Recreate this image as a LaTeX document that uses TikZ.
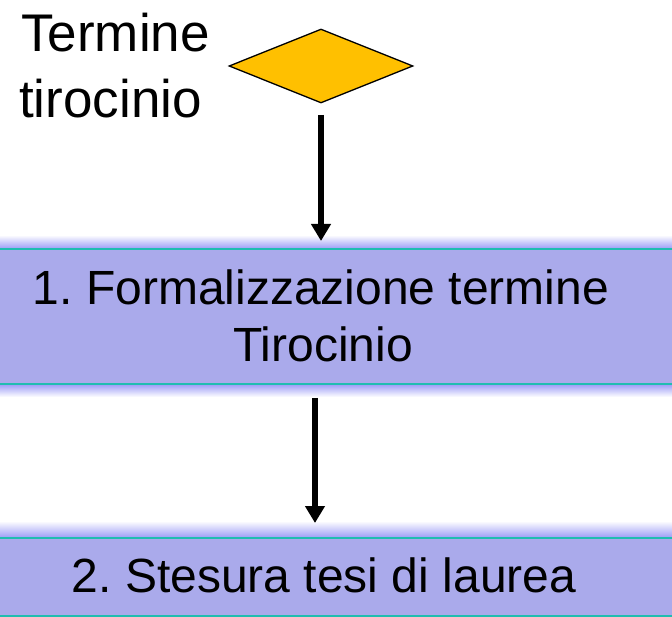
\documentclass[tikz,border=0pt]{standalone}
\usepackage{fontspec}
\setmainfont{Liberation Sans}
\usetikzlibrary{shapes.geometric,arrows.meta}
\definecolor{bandfill}{HTML}{AAAAEB}
\definecolor{bandedge}{HTML}{9A9AF6}
\definecolor{tealline}{HTML}{20BDB0}
\definecolor{diamondfill}{HTML}{FFC000}
\tikzset{
  lbl/.style={inner sep=0pt, font=\fontsize{53}{63}\selectfont},
  boxtxt/.style={inner sep=0pt, font=\fontsize{48}{57}\selectfont},
  flowarrow/.style={line width=6.5pt, -{Triangle[length=17pt,width=19pt]}},
  edge line/.style={tealline, line width=2.2pt},
}
\frenchspacing
\begin{document}
\begin{tikzpicture}[x=1pt,y=-1pt]
\useasboundingbox (0,0) rectangle (672,617);
% band 1
\shade[top color=white, bottom color=bandedge] (0,235) rectangle (672,249);
\shade[top color=bandedge, bottom color=white] (0,384) rectangle (672,397);
\fill[bandfill] (0,249) rectangle (672,384);
\draw[edge line] (0,249) -- (672,249);
\draw[edge line] (0,384) -- (672,384);
% band 2
\shade[top color=white, bottom color=bandedge] (0,521) rectangle (672,538);
\fill[bandfill] (0,538) rectangle (672,617);
\draw[edge line] (0,538) -- (672,538);
\draw[edge line] (0,616) -- (672,616);
% diamond
\node[diamond, draw=black, line width=1.3pt, fill=diamondfill, minimum width=184pt, minimum height=74pt, inner sep=0pt, aspect=2.5] (dec) at (321,66) {};
% labels
\node[lbl, anchor=base west] (t1) at (21,52) {Termine};
\node[lbl, anchor=base west] (t2) at (19,118) {tirocinio};
\node[boxtxt, anchor=base] (b1a) at (321,305) {1. Formalizzazione termine};
\node[boxtxt, anchor=base] (b1b) at (323,362) {Tirocinio};
\node[boxtxt, anchor=base] (b2) at (324,592) {2. Stesura tesi di laurea};
% connector anchors
\coordinate (a1s) at (321,115);
\coordinate (a1e) at (321,241);
\coordinate (a2s) at (315,398);
\coordinate (a2e) at (315,523);
\draw[flowarrow] (a1s) -- (a1e);
\draw[flowarrow] (a2s) -- (a2e);
\end{tikzpicture}
\end{document}
